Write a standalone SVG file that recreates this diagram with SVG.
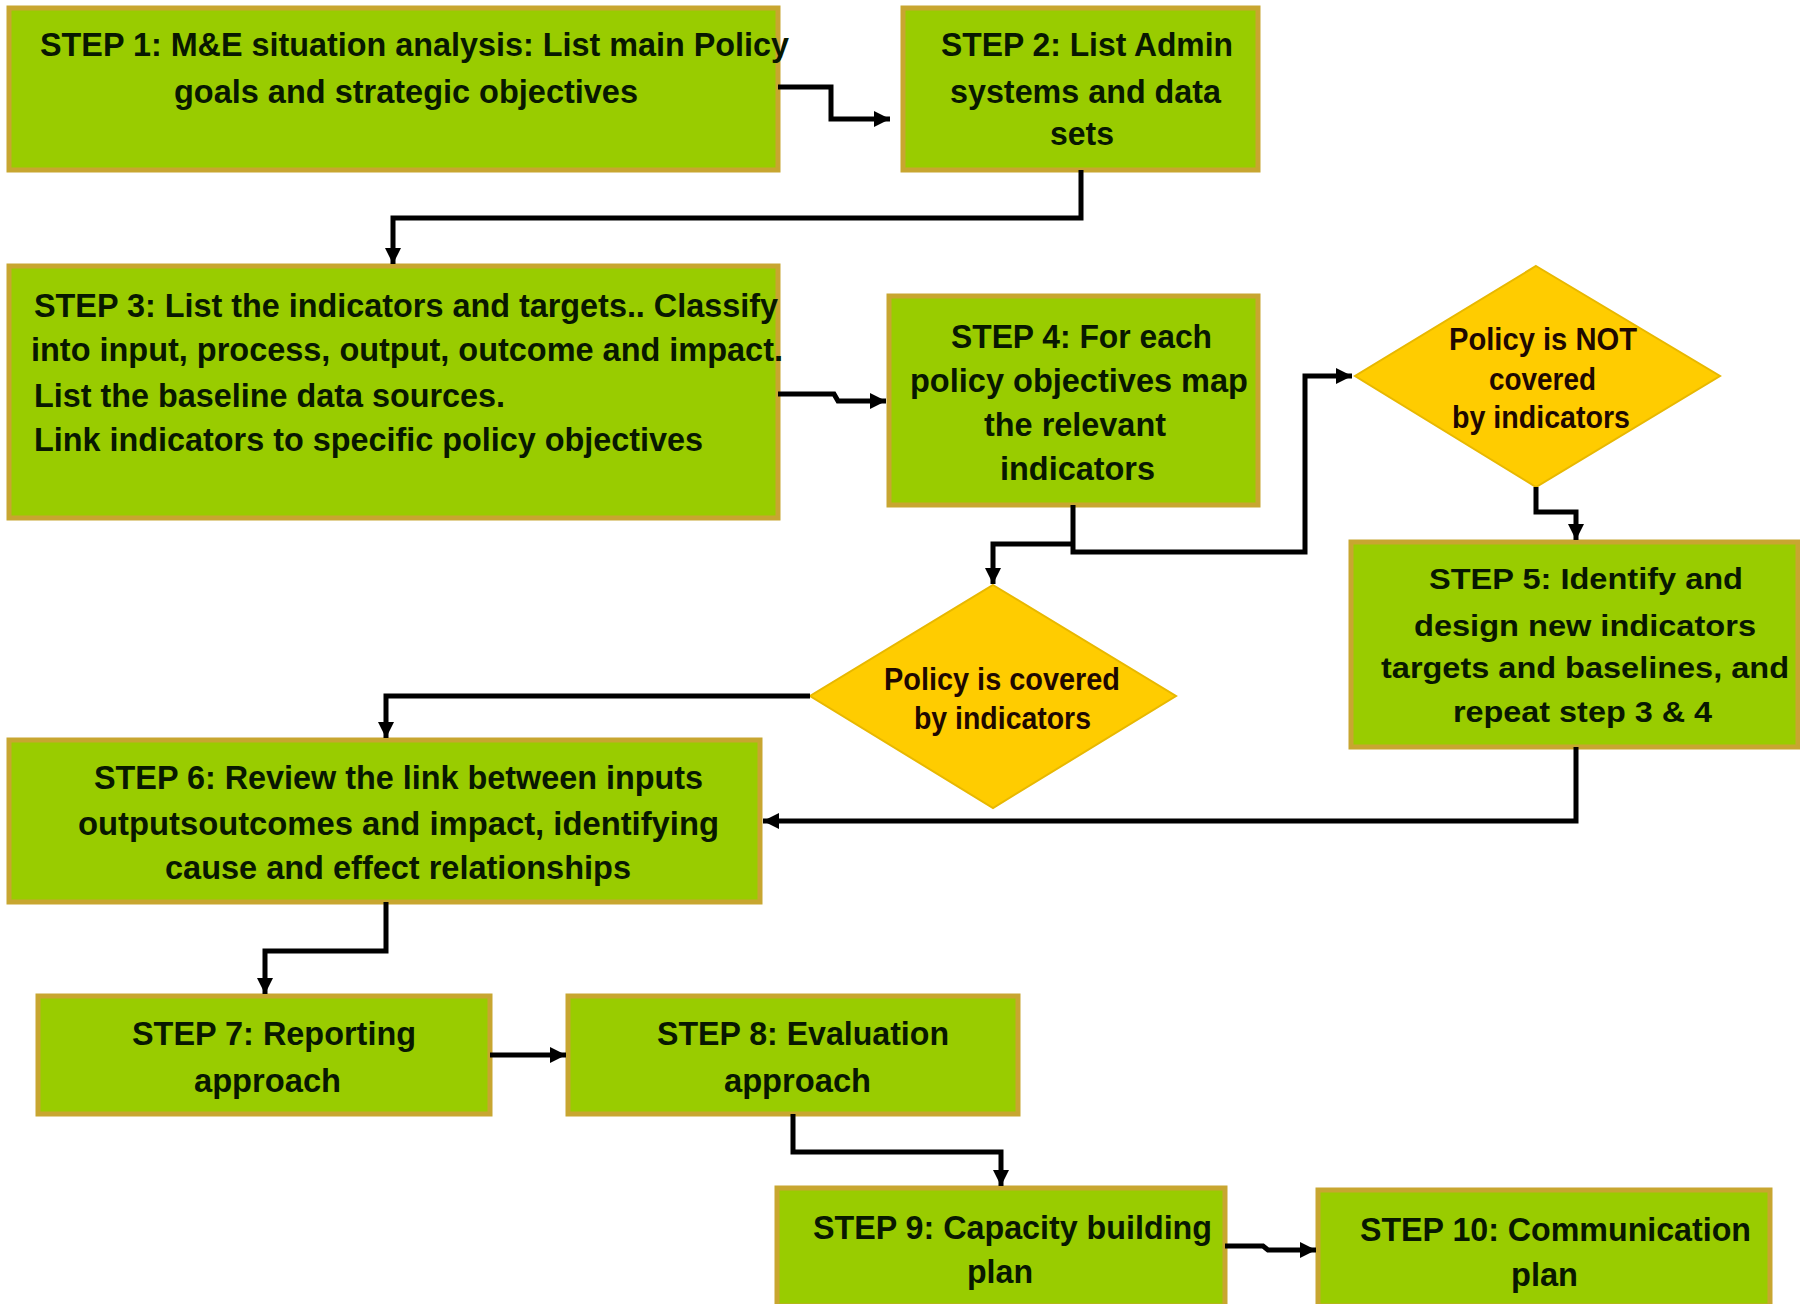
<svg xmlns="http://www.w3.org/2000/svg" width="1800" height="1304" viewBox="0 0 1800 1304">
<defs>
<style>
.box{fill:#99cc00;stroke:#c8a630;stroke-width:5}
.dia{fill:#ffcc00;stroke:#e8b800;stroke-width:2}
.t{font-family:"Liberation Sans",Arial,sans-serif;font-weight:bold;font-size:34px;fill:#081800}
.tw{font-family:"Liberation Sans",Arial,sans-serif;font-weight:bold;font-size:29px;fill:#081800}
.td{font-family:"Liberation Sans",Arial,sans-serif;font-weight:bold;font-size:31px;fill:#1e0800}
.c{fill:none;stroke:#000;stroke-width:5;stroke-linejoin:miter}
</style>
<marker id="ah" markerUnits="userSpaceOnUse" markerWidth="18" markerHeight="18" refX="16" refY="8" orient="auto">
<path d="M0,0 L16,8 L0,16 Z" fill="#000"/>
</marker>
</defs>
<rect width="1800" height="1304" fill="#fff"/>

<g id="step1">
<rect class="box" x="9" y="8" width="769" height="162"/>
<text class="t" x="40" y="56" textLength="749" lengthAdjust="spacingAndGlyphs">STEP 1: M&amp;E situation analysis: List main Policy</text>
<text class="t" x="174" y="103" textLength="464" lengthAdjust="spacingAndGlyphs">goals and strategic objectives</text>
</g>

<g id="step2">
<rect class="box" x="903" y="8" width="355" height="162"/>
<text class="t" x="941" y="56" textLength="292" lengthAdjust="spacingAndGlyphs">STEP 2: List Admin</text>
<text class="t" x="950" y="103" textLength="271" lengthAdjust="spacingAndGlyphs">systems and data</text>
<text class="t" x="1050" y="145" textLength="64" lengthAdjust="spacingAndGlyphs">sets</text>
</g>

<g id="step3">
<rect class="box" x="9" y="266" width="769" height="252"/>
<text class="t" x="34" y="317" textLength="744" lengthAdjust="spacingAndGlyphs">STEP 3: List the indicators and targets.. Classify</text>
<text class="t" x="31" y="361" textLength="752" lengthAdjust="spacingAndGlyphs">into input, process, output, outcome and impact.</text>
<text class="t" x="34" y="407" textLength="471" lengthAdjust="spacingAndGlyphs">List the baseline data sources.</text>
<text class="t" x="34" y="451" textLength="669" lengthAdjust="spacingAndGlyphs">Link indicators to specific policy objectives</text>
</g>

<g id="step4">
<rect class="box" x="889" y="296" width="369" height="209"/>
<text class="t" x="951" y="348" textLength="261" lengthAdjust="spacingAndGlyphs">STEP 4: For each</text>
<text class="t" x="910" y="392" textLength="338" lengthAdjust="spacingAndGlyphs">policy objectives map</text>
<text class="t" x="984" y="436" textLength="182" lengthAdjust="spacingAndGlyphs">the relevant</text>
<text class="t" x="1000" y="480" textLength="155" lengthAdjust="spacingAndGlyphs">indicators</text>
</g>

<g id="notcovered">
<polygon class="dia" points="1536,266 1720,376 1536,487 1355,376"/>
<text class="td" x="1449" y="350" textLength="188" lengthAdjust="spacingAndGlyphs">Policy is NOT</text>
<text class="td" x="1489" y="390" textLength="107" lengthAdjust="spacingAndGlyphs">covered</text>
<text class="td" x="1452" y="428" textLength="178" lengthAdjust="spacingAndGlyphs">by indicators</text>
</g>

<g id="step5">
<rect class="box" x="1351" y="542" width="447" height="205"/>
<text class="tw" x="1429" y="589" textLength="314" lengthAdjust="spacingAndGlyphs">STEP 5: Identify and</text>
<text class="tw" x="1414" y="636" textLength="342" lengthAdjust="spacingAndGlyphs">design new indicators</text>
<text class="tw" x="1381" y="678" textLength="408" lengthAdjust="spacingAndGlyphs">targets and baselines, and</text>
<text class="tw" x="1453" y="722" textLength="259" lengthAdjust="spacingAndGlyphs">repeat step 3 &amp; 4</text>
</g>

<g id="covered">
<polygon class="dia" points="993,585 1176,696 993,808 810,696"/>
<text class="td" x="884" y="690" textLength="236" lengthAdjust="spacingAndGlyphs">Policy is covered</text>
<text class="td" x="914" y="729" textLength="177" lengthAdjust="spacingAndGlyphs">by indicators</text>
</g>

<g id="step6">
<rect class="box" x="9" y="740" width="751" height="162"/>
<text class="t" x="94" y="789" textLength="609" lengthAdjust="spacingAndGlyphs">STEP 6: Review the link between inputs</text>
<text class="t" x="78" y="835" textLength="641" lengthAdjust="spacingAndGlyphs">outputsoutcomes and impact, identifying</text>
<text class="t" x="165" y="879" textLength="466" lengthAdjust="spacingAndGlyphs">cause and effect relationships</text>
</g>

<g id="step7">
<rect class="box" x="38" y="996" width="452" height="118"/>
<text class="t" x="132" y="1045" textLength="284" lengthAdjust="spacingAndGlyphs">STEP 7: Reporting</text>
<text class="t" x="194" y="1092" textLength="147" lengthAdjust="spacingAndGlyphs">approach</text>
</g>

<g id="step8">
<rect class="box" x="568" y="996" width="450" height="118"/>
<text class="t" x="657" y="1045" textLength="292" lengthAdjust="spacingAndGlyphs">STEP 8: Evaluation</text>
<text class="t" x="724" y="1092" textLength="147" lengthAdjust="spacingAndGlyphs">approach</text>
</g>

<g id="step9">
<rect class="box" x="777" y="1188" width="448" height="118"/>
<text class="t" x="813" y="1239" textLength="399" lengthAdjust="spacingAndGlyphs">STEP 9: Capacity building</text>
<text class="t" x="967" y="1283" textLength="66" lengthAdjust="spacingAndGlyphs">plan</text>
</g>

<g id="step10">
<rect class="box" x="1318" y="1190" width="452" height="116"/>
<text class="t" x="1360" y="1241" textLength="391" lengthAdjust="spacingAndGlyphs">STEP 10: Communication</text>
<text class="t" x="1511" y="1286" textLength="67" lengthAdjust="spacingAndGlyphs">plan</text>
</g>

<g id="connectors">
<path class="c" d="M778,87 H831 V119 H890" marker-end="url(#ah)"/>
<path class="c" d="M1081,170 V218 H393 V264" marker-end="url(#ah)"/>
<path class="c" d="M778,394 H834 L838,401 H886" marker-end="url(#ah)"/>
<path class="c" d="M1073,505 V552 H1305 V376 H1352" marker-end="url(#ah)"/>
<path class="c" d="M1073,544 H993 V584" marker-end="url(#ah)"/>
<path class="c" d="M1536,487 V512 H1576 V540" marker-end="url(#ah)"/>
<path class="c" d="M810,696 H386 V738" marker-end="url(#ah)"/>
<path class="c" d="M1576,747 V821 H763" marker-end="url(#ah)"/>
<path class="c" d="M386,902 V951 H265 V994" marker-end="url(#ah)"/>
<path class="c" d="M490,1055 H566" marker-end="url(#ah)"/>
<path class="c" d="M793,1114 V1152 H1001 V1186" marker-end="url(#ah)"/>
<path class="c" d="M1225,1246 H1263 L1268,1250 H1316" marker-end="url(#ah)"/>
</g>
</svg>
